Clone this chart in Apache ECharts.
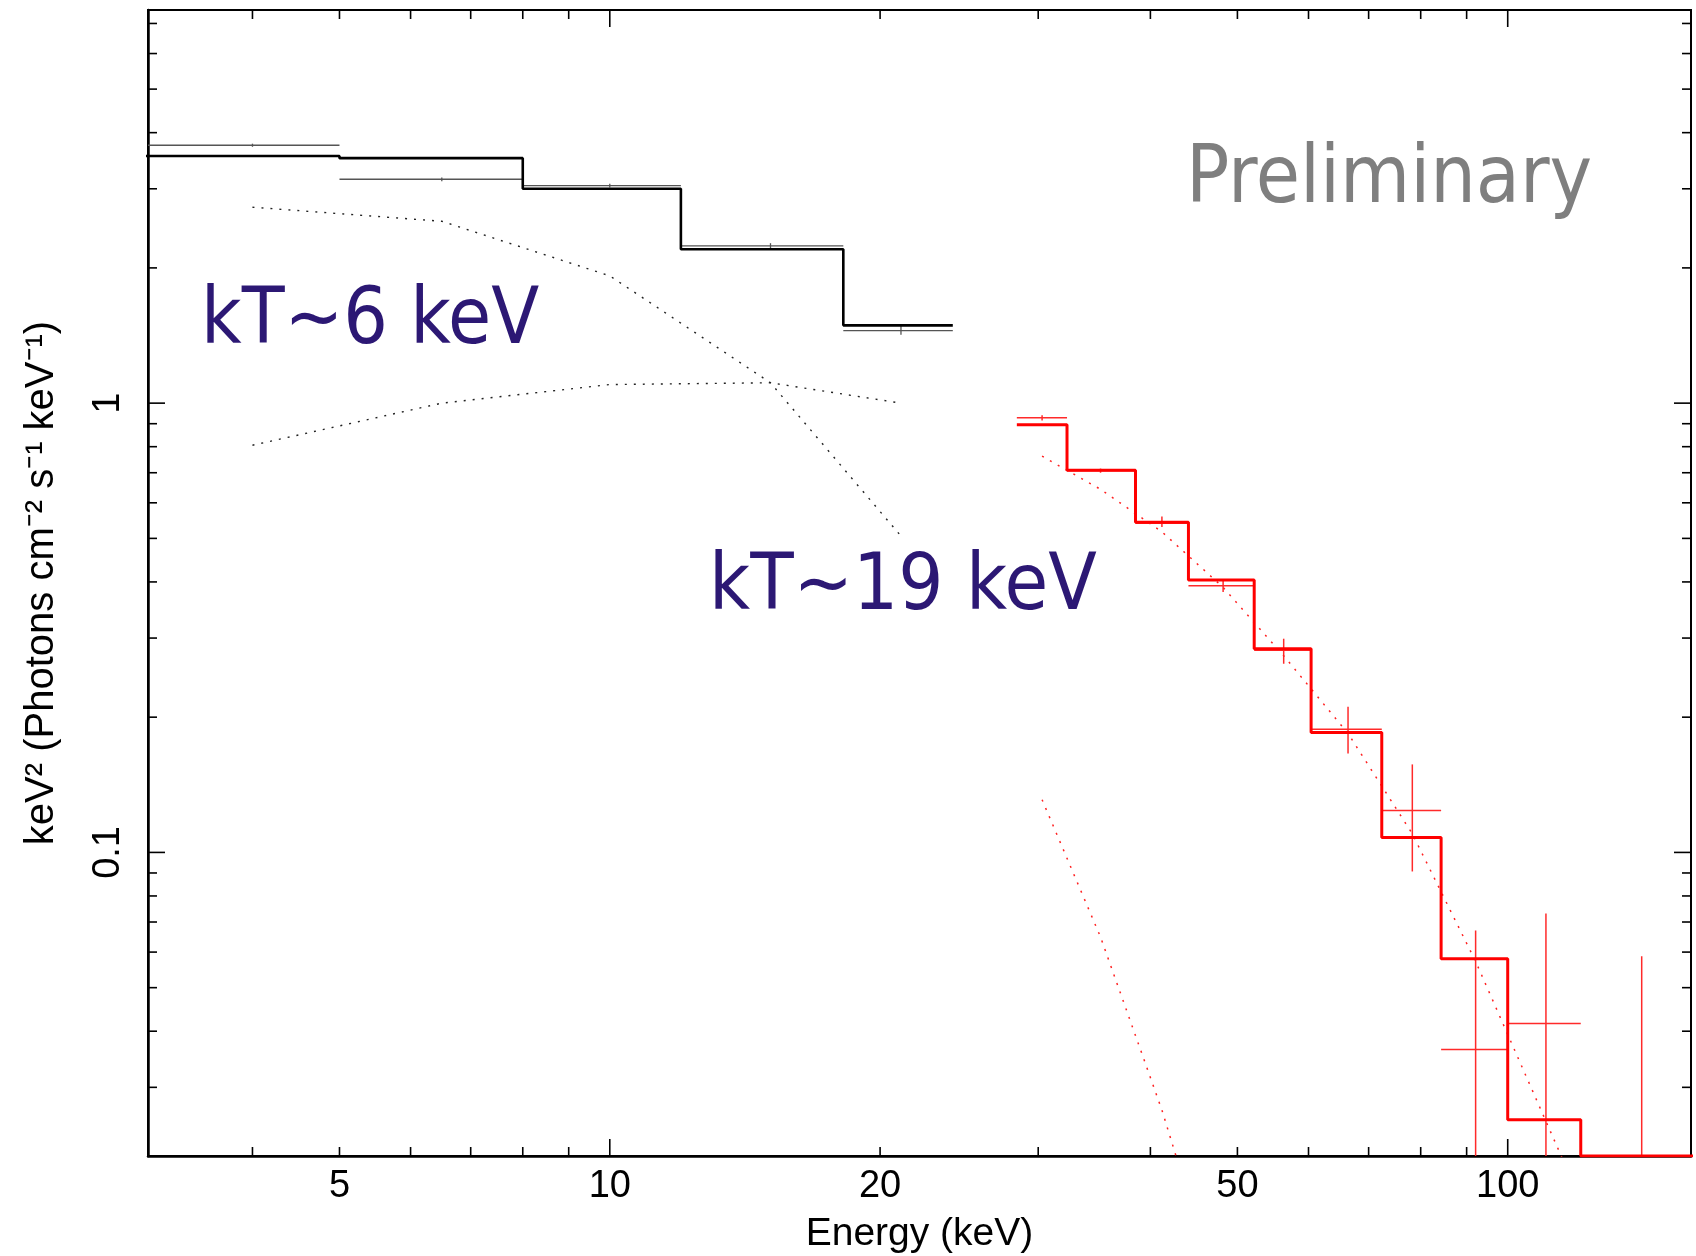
<!DOCTYPE html>
<html>
<head>
<meta charset="utf-8">
<title>Spectrum</title>
<script src="https://cdn.jsdelivr.net/npm/echarts@6/dist/echarts.min.js"></script>
<style>
    html, body { margin: 0; padding: 0; background: #fff; }
    #chart { width: 1696px; height: 1256px; }
</style>
</head>
<body>
<div id="chart"></div>
<script>
// 坐标轴范围
const xRange = [3.06, 160];
const yRange = [0.0211, 7.5];

// 刻度
const xMajorTicks = [10, 100];
const xMinorTicks = [4, 5, 6, 7, 8, 9, 20, 30, 40, 50, 60, 70, 80, 90];
const xTickLabels = [5, 10, 20, 50, 100];
const yMajorTicks = [0.1, 1];
const yMinorTicks = [0.03, 0.04, 0.05, 0.06, 0.07, 0.08, 0.09, 0.2, 0.3, 0.4, 0.5, 0.6, 0.7, 0.8, 0.9, 2, 3, 4, 5, 6, 7];
const yTickLabels = [0.1, 1];

// 低能段 (黑色)
const blackEdges = [3, 5, 8, 12, 18.2, 24.1];
const blackCenters = [4, 6.5, 10, 15.1, 21.1];
const blackData = [3.75, 3.15, 3.05, 2.24, 1.45];
const blackErrLo = [3.72, 3.12, 3.02, 2.21, 1.42];
const blackErrHi = [3.78, 3.18, 3.08, 2.27, 1.49];
const blackModel = [3.55, 3.51, 3.0, 2.2, 1.49];
const blackComp6 = [2.73, 2.54, 1.92, 1.11, 0.506];
const blackComp19 = [0.806, 1.0, 1.10, 1.11, 1.0];

// 高能段 (红色)
const redEdges = [28.4, 32.3, 38.5, 44.1, 52.2, 60.4, 72.4, 84.3, 100, 120.6, 162];
const redCenters = [30.3, 35.2, 41.2, 48.2, 56.3, 66.4, 78.3, 92.1, 110.3, 141];
const redData = [0.928, 0.707, 0.54, 0.392, 0.282, 0.188, 0.124, 0.0364, 0.0416, 0.012];
const redErrLo = [0.915, 0.70, 0.53, 0.38, 0.263, 0.166, 0.0907, 0.005, 0.005, 0.001];
const redErrHi = [0.94, 0.715, 0.559, 0.404, 0.299, 0.211, 0.157, 0.067, 0.0731, 0.0587];
const redModel = [0.895, 0.709, 0.543, 0.404, 0.284, 0.185, 0.108, 0.058, 0.0254, 0.0211];
const redComp19 = [0.762, 0.643, 0.517, 0.389, 0.274, 0.184, 0.110, 0.0572, 0.0252, 0.0083];
const redComp6 = [0.131, 0.0648, 0.0267, 0.0096];

const labelFont = '38px "Liberation Sans", Arial, sans-serif';
const noteFont = '"DejaVu Sans Condensed", "DejaVu Sans", sans-serif';

// 阶梯线数据
function stepPoints(edges, values) {
    const pts = values.map((v, i) => [edges[i], v]);
    pts.push([edges[values.length], values[values.length - 1]]);
    return pts;
}

// 误差十字数据
function crossRows(edges, centers, vals, lo, hi) {
    return vals.map((v, i) => [centers[i], v, edges[i], edges[i + 1], lo[i], hi[i]]);
}

function curve(centers, vals) {
    return vals.map((v, i) => [centers[i], v]);
}

function renderCross(color, width) {
    return function (params, api) {
        const p = api.coord([api.value(0), api.value(1)]);
        const a = api.coord([api.value(2), api.value(1)]);
        const b = api.coord([api.value(3), api.value(1)]);
        const lo = api.coord([api.value(0), api.value(4)]);
        const hi = api.coord([api.value(0), api.value(5)]);
        const style = { stroke: color, lineWidth: width };
        return {
            type: 'group',
            children: [
                { type: 'line', shape: { x1: a[0], y1: p[1], x2: b[0], y2: p[1] }, style: style },
                { type: 'line', shape: { x1: p[0], y1: lo[1], x2: p[0], y2: hi[1] }, style: style },
            ],
        };
    };
}

// x 轴刻度 (上下两边)
function xTickSeries(values, len) {
    return {
        type: 'custom',
        silent: true,
        clip: false,
        z: 5,
        encode: { x: 0, y: 1 },
        data: values.map((v) => [v, yRange[0]]),
        renderItem: function (params, api) {
            const cs = params.coordSys;
            const x = api.coord([api.value(0), yRange[0]])[0];
            const style = { stroke: '#000', lineWidth: 1.6 };
            return {
                type: 'group',
                children: [
                    { type: 'line', shape: { x1: x, y1: cs.y + cs.height, x2: x, y2: cs.y + cs.height - len }, style: style },
                    { type: 'line', shape: { x1: x, y1: cs.y, x2: x, y2: cs.y + len }, style: style },
                ],
            };
        },
    };
}

// y 轴刻度 (左右两边)
function yTickSeries(values, len) {
    return {
        type: 'custom',
        silent: true,
        clip: false,
        z: 5,
        encode: { x: 0, y: 1 },
        data: values.map((v) => [xRange[0], v]),
        renderItem: function (params, api) {
            const cs = params.coordSys;
            const y = api.coord([xRange[0], api.value(1)])[1];
            const style = { stroke: '#000', lineWidth: 1.6 };
            return {
                type: 'group',
                children: [
                    { type: 'line', shape: { x1: cs.x, y1: y, x2: cs.x + len, y2: y }, style: style },
                    { type: 'line', shape: { x1: cs.x + cs.width, y1: y, x2: cs.x + cs.width - len, y2: y }, style: style },
                ],
            };
        },
    };
}

const chart = echarts.init(document.getElementById('chart'));

const option = {
    animation: false,
    backgroundColor: '#fff',
    grid: {
        left: 148,
        right: 5,
        top: 10,
        bottom: 100,
        show: true,
        borderColor: '#000',
        borderWidth: 2,
        outerBoundsMode: 'none',
    },
    xAxis: {
        type: 'log',
        logBase: 10,
        min: xRange[0],
        max: xRange[1],
        axisLine: { lineStyle: { color: '#000', width: 2.5 } },
        axisTick: { show: false },
        axisLabel: { show: false },
        splitLine: { show: false },
        name: 'Energy (keV)',
        nameLocation: 'middle',
        nameGap: 59,
        nameTextStyle: { color: '#000', fontSize: 39, fontFamily: 'Liberation Sans' },
    },
    yAxis: {
        type: 'log',
        logBase: 10,
        min: yRange[0],
        max: yRange[1],
        axisLine: { lineStyle: { color: '#000', width: 2.5 } },
        axisTick: { show: false },
        axisLabel: { show: false },
        splitLine: { show: false },
        name: 'keV² (Photons cm⁻² s⁻¹ keV⁻¹)',
        nameLocation: 'middle',
        nameRotate: 90,
        nameGap: 86,
        nameTextStyle: { color: '#000', fontSize: 40, fontFamily: 'Liberation Sans' },
    },
    graphic: [
        {
            type: 'text', x: 1186, y: 181, silent: true,
            style: { text: 'Preliminary', font: '80px ' + noteFont, fill: '#7f7f7f', verticalAlign: 'middle' },
        },
        {
            type: 'text', x: 201, y: 323, silent: true,
            style: { text: 'kT~6 keV', font: '78px ' + noteFont, fill: '#2c1874', verticalAlign: 'middle' },
        },
        {
            type: 'text', x: 709, y: 588, silent: true,
            style: { text: 'kT~19 keV', font: '79px ' + noteFont, fill: '#2c1874', verticalAlign: 'middle' },
        },
    ],
    series: [
        xTickSeries(xMajorTicks, 17),
        xTickSeries(xMinorTicks, 9),
        yTickSeries(yMajorTicks, 17),
        yTickSeries(yMinorTicks, 9),
        {
            // x 刻度标签
            type: 'custom',
            silent: true,
            clip: false,
            encode: { x: 0, y: 1 },
            data: xTickLabels.map((v) => [v, yRange[0]]),
            renderItem: function (params, api) {
                const cs = params.coordSys;
                const x = api.coord([api.value(0), yRange[0]])[0];
                return {
                    type: 'text',
                    x: x,
                    y: cs.y + cs.height + 31,
                    style: { text: String(api.value(0)), font: labelFont, fill: '#000', align: 'center', verticalAlign: 'middle' },
                };
            },
        },
        {
            // y 刻度标签 (竖排)
            type: 'custom',
            silent: true,
            clip: false,
            encode: { x: 0, y: 1 },
            data: yTickLabels.map((v) => [xRange[0], v]),
            renderItem: function (params, api) {
                const y = api.coord([xRange[0], api.value(1)])[1];
                return {
                    type: 'text',
                    x: 109,
                    y: y,
                    rotation: Math.PI / 2,
                    style: { text: String(api.value(1)), font: labelFont, fill: '#000', align: 'center', verticalAlign: 'middle' },
                };
            },
        },
        {
            type: 'line',
            data: curve(blackCenters, blackComp6),
            symbol: 'none',
            lineStyle: { color: '#222', width: 1.4, type: [2, 7] },
        },
        {
            type: 'line',
            data: curve(blackCenters, blackComp19),
            symbol: 'none',
            lineStyle: { color: '#222', width: 1.4, type: [2, 7] },
        },
        {
            type: 'custom',
            clip: true,
            encode: { x: 0, y: 1 },
            data: crossRows(blackEdges, blackCenters, blackData, blackErrLo, blackErrHi),
            renderItem: renderCross('#555', 1.3),
        },
        {
            type: 'line',
            step: 'end',
            data: stepPoints(blackEdges, blackModel),
            symbol: 'none',
            lineStyle: { color: '#000', width: 2.6 },
        },
        {
            type: 'line',
            data: curve(redCenters, redComp19),
            symbol: 'none',
            lineStyle: { color: '#ff2020', width: 1.5, type: [2, 7] },
        },
        {
            type: 'line',
            data: curve(redCenters, redComp6),
            symbol: 'none',
            lineStyle: { color: '#ff2020', width: 1.5, type: [2, 7] },
        },
        {
            type: 'custom',
            clip: true,
            encode: { x: 0, y: 1 },
            data: crossRows(redEdges, redCenters, redData, redErrLo, redErrHi),
            renderItem: renderCross('#ff2a2a', 1.5),
        },
        {
            type: 'line',
            step: 'end',
            data: stepPoints(redEdges, redModel),
            symbol: 'none',
            lineStyle: { color: '#ff0000', width: 3 },
        },
    ],
};

chart.setOption(option);
</script>
</body>
</html>
